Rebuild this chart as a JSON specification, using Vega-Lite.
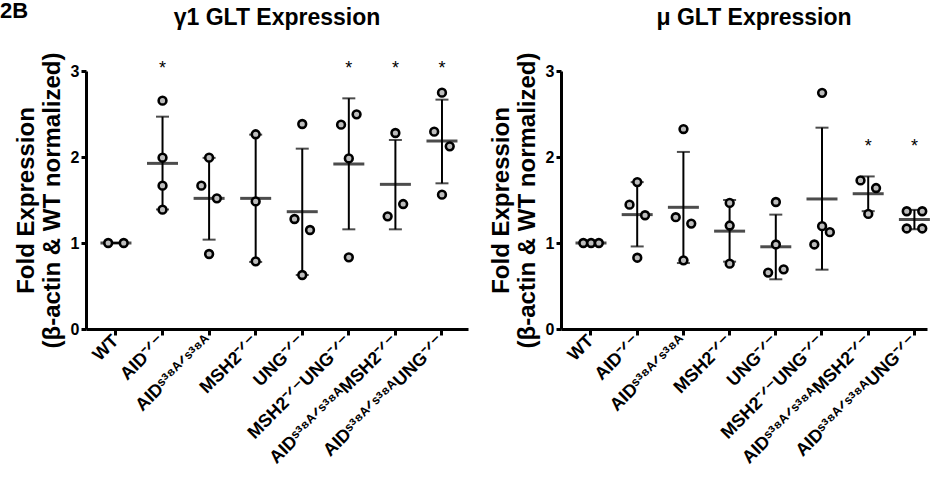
{
  "$schema": "https://vega.github.io/schema/vega-lite/v6.json",
  "padding": {"left": 0, "top": 0, "right": 0, "bottom": 0},
  "background": "white",
  "title": {"text": "2B", "anchor": "start", "frame": "bounds", "fontSize": 22, "font": "Liberation Sans", "fontWeight": "bold", "color": "black", "offset": -16, "dx": -14},
  "config": {
    "view": {"stroke": null},
    "font": "Liberation Sans",
    "title": {"font": "Liberation Sans", "fontSize": 23, "fontWeight": "bold", "color": "black", "anchor": "middle", "offset": 22}
  },
  "datasets": {
    "pts": [
      {"panel": "g1", "group": "WT", "pos": "l", "value": 1.0},
      {"panel": "g1", "group": "WT", "pos": "r", "value": 1.0},
      {"panel": "g1", "group": "AID⁻ᐟ⁻", "pos": "c", "value": 2.655},
      {"panel": "g1", "group": "AID⁻ᐟ⁻", "pos": "c", "value": 1.992},
      {"panel": "g1", "group": "AID⁻ᐟ⁻", "pos": "c", "value": 1.667},
      {"panel": "g1", "group": "AID⁻ᐟ⁻", "pos": "c", "value": 1.388},
      {"panel": "g1", "group": "AIDˢ³⁸ᴬᐟˢ³⁸ᴬ", "pos": "c", "value": 1.992},
      {"panel": "g1", "group": "AIDˢ³⁸ᴬᐟˢ³⁸ᴬ", "pos": "l", "value": 1.667},
      {"panel": "g1", "group": "AIDˢ³⁸ᴬᐟˢ³⁸ᴬ", "pos": "r", "value": 1.519},
      {"panel": "g1", "group": "AIDˢ³⁸ᴬᐟˢ³⁸ᴬ", "pos": "c", "value": 0.872},
      {"panel": "g1", "group": "MSH2⁻ᐟ⁻", "pos": "c", "value": 2.264},
      {"panel": "g1", "group": "MSH2⁻ᐟ⁻", "pos": "c", "value": 1.484},
      {"panel": "g1", "group": "MSH2⁻ᐟ⁻", "pos": "c", "value": 0.787},
      {"panel": "g1", "group": "UNG⁻ᐟ⁻", "pos": "c", "value": 2.384},
      {"panel": "g1", "group": "UNG⁻ᐟ⁻", "pos": "l", "value": 1.279},
      {"panel": "g1", "group": "UNG⁻ᐟ⁻", "pos": "r", "value": 1.151},
      {"panel": "g1", "group": "UNG⁻ᐟ⁻", "pos": "c", "value": 0.628},
      {"panel": "g1", "group": "MSH2⁻ᐟ⁻UNG⁻ᐟ⁻", "pos": "l", "value": 2.376},
      {"panel": "g1", "group": "MSH2⁻ᐟ⁻UNG⁻ᐟ⁻", "pos": "r", "value": 2.496},
      {"panel": "g1", "group": "MSH2⁻ᐟ⁻UNG⁻ᐟ⁻", "pos": "c", "value": 1.984},
      {"panel": "g1", "group": "MSH2⁻ᐟ⁻UNG⁻ᐟ⁻", "pos": "c", "value": 0.833},
      {"panel": "g1", "group": "AIDˢ³⁸ᴬᐟˢ³⁸ᴬMSH2⁻ᐟ⁻", "pos": "c", "value": 2.279},
      {"panel": "g1", "group": "AIDˢ³⁸ᴬᐟˢ³⁸ᴬMSH2⁻ᐟ⁻", "pos": "l", "value": 1.31},
      {"panel": "g1", "group": "AIDˢ³⁸ᴬᐟˢ³⁸ᴬMSH2⁻ᐟ⁻", "pos": "r", "value": 1.453},
      {"panel": "g1", "group": "AIDˢ³⁸ᴬᐟˢ³⁸ᴬUNG⁻ᐟ⁻", "pos": "c", "value": 2.748},
      {"panel": "g1", "group": "AIDˢ³⁸ᴬᐟˢ³⁸ᴬUNG⁻ᐟ⁻", "pos": "l", "value": 2.295},
      {"panel": "g1", "group": "AIDˢ³⁸ᴬᐟˢ³⁸ᴬUNG⁻ᐟ⁻", "pos": "r", "value": 2.124},
      {"panel": "g1", "group": "AIDˢ³⁸ᴬᐟˢ³⁸ᴬUNG⁻ᐟ⁻", "pos": "c", "value": 1.562},
      {"panel": "mu", "group": "WT", "pos": "l", "value": 1.0},
      {"panel": "mu", "group": "WT", "pos": "c", "value": 1.0},
      {"panel": "mu", "group": "WT", "pos": "r", "value": 1.0},
      {"panel": "mu", "group": "AID⁻ᐟ⁻", "pos": "c", "value": 1.708},
      {"panel": "mu", "group": "AID⁻ᐟ⁻", "pos": "l", "value": 1.446},
      {"panel": "mu", "group": "AID⁻ᐟ⁻", "pos": "r", "value": 1.323},
      {"panel": "mu", "group": "AID⁻ᐟ⁻", "pos": "c", "value": 0.829},
      {"panel": "mu", "group": "AIDˢ³⁸ᴬᐟˢ³⁸ᴬ", "pos": "c", "value": 2.325},
      {"panel": "mu", "group": "AIDˢ³⁸ᴬᐟˢ³⁸ᴬ", "pos": "l", "value": 1.3},
      {"panel": "mu", "group": "AIDˢ³⁸ᴬᐟˢ³⁸ᴬ", "pos": "r", "value": 1.226},
      {"panel": "mu", "group": "AIDˢ³⁸ᴬᐟˢ³⁸ᴬ", "pos": "c", "value": 0.798},
      {"panel": "mu", "group": "MSH2⁻ᐟ⁻", "pos": "c", "value": 1.466},
      {"panel": "mu", "group": "MSH2⁻ᐟ⁻", "pos": "c", "value": 1.203},
      {"panel": "mu", "group": "MSH2⁻ᐟ⁻", "pos": "c", "value": 0.76},
      {"panel": "mu", "group": "UNG⁻ᐟ⁻", "pos": "c", "value": 1.477},
      {"panel": "mu", "group": "UNG⁻ᐟ⁻", "pos": "c", "value": 0.983},
      {"panel": "mu", "group": "UNG⁻ᐟ⁻", "pos": "l", "value": 0.656},
      {"panel": "mu", "group": "UNG⁻ᐟ⁻", "pos": "r", "value": 0.694},
      {"panel": "mu", "group": "MSH2⁻ᐟ⁻UNG⁻ᐟ⁻", "pos": "c", "value": 2.746},
      {"panel": "mu", "group": "MSH2⁻ᐟ⁻UNG⁻ᐟ⁻", "pos": "c", "value": 1.196},
      {"panel": "mu", "group": "MSH2⁻ᐟ⁻UNG⁻ᐟ⁻", "pos": "l", "value": 0.983},
      {"panel": "mu", "group": "MSH2⁻ᐟ⁻UNG⁻ᐟ⁻", "pos": "r", "value": 1.126},
      {"panel": "mu", "group": "AIDˢ³⁸ᴬᐟˢ³⁸ᴬMSH2⁻ᐟ⁻", "pos": "l", "value": 1.728},
      {"panel": "mu", "group": "AIDˢ³⁸ᴬᐟˢ³⁸ᴬMSH2⁻ᐟ⁻", "pos": "r", "value": 1.639},
      {"panel": "mu", "group": "AIDˢ³⁸ᴬᐟˢ³⁸ᴬMSH2⁻ᐟ⁻", "pos": "c", "value": 1.338},
      {"panel": "mu", "group": "AIDˢ³⁸ᴬᐟˢ³⁸ᴬUNG⁻ᐟ⁻", "pos": "l", "value": 1.369},
      {"panel": "mu", "group": "AIDˢ³⁸ᴬᐟˢ³⁸ᴬUNG⁻ᐟ⁻", "pos": "r", "value": 1.369},
      {"panel": "mu", "group": "AIDˢ³⁸ᴬᐟˢ³⁸ᴬUNG⁻ᐟ⁻", "pos": "l", "value": 1.169},
      {"panel": "mu", "group": "AIDˢ³⁸ᴬᐟˢ³⁸ᴬUNG⁻ᐟ⁻", "pos": "r", "value": 1.169}
    ],
    "sum": [
      {"panel": "g1", "group": "WT", "mean": 1.0, "lo": 1.0, "hi": 1.0},
      {"panel": "g1", "group": "AID⁻ᐟ⁻", "mean": 1.926, "lo": 1.39, "hi": 2.469},
      {"panel": "g1", "group": "AIDˢ³⁸ᴬᐟˢ³⁸ᴬ", "mean": 1.519, "lo": 1.039, "hi": 1.99},
      {"panel": "g1", "group": "MSH2⁻ᐟ⁻", "mean": 1.519, "lo": 0.78, "hi": 2.26},
      {"panel": "g1", "group": "UNG⁻ᐟ⁻", "mean": 1.364, "lo": 0.628, "hi": 2.097},
      {"panel": "g1", "group": "MSH2⁻ᐟ⁻UNG⁻ᐟ⁻", "mean": 1.919, "lo": 1.159, "hi": 2.682},
      {"panel": "g1", "group": "AIDˢ³⁸ᴬᐟˢ³⁸ᴬMSH2⁻ᐟ⁻", "mean": 1.682, "lo": 1.159, "hi": 2.198},
      {"panel": "g1", "group": "AIDˢ³⁸ᴬᐟˢ³⁸ᴬUNG⁻ᐟ⁻", "mean": 2.186, "lo": 1.694, "hi": 2.667},
      {"panel": "mu", "group": "WT", "mean": 1.0, "lo": 1.0, "hi": 1.0},
      {"panel": "mu", "group": "AID⁻ᐟ⁻", "mean": 1.33, "lo": 0.96, "hi": 1.708},
      {"panel": "mu", "group": "AIDˢ³⁸ᴬᐟˢ³⁸ᴬ", "mean": 1.415, "lo": 0.767, "hi": 2.059},
      {"panel": "mu", "group": "MSH2⁻ᐟ⁻", "mean": 1.138, "lo": 0.783, "hi": 1.5},
      {"panel": "mu", "group": "UNG⁻ᐟ⁻", "mean": 0.956, "lo": 0.578, "hi": 1.33},
      {"panel": "mu", "group": "MSH2⁻ᐟ⁻UNG⁻ᐟ⁻", "mean": 1.512, "lo": 0.69, "hi": 2.341},
      {"panel": "mu", "group": "AIDˢ³⁸ᴬᐟˢ³⁸ᴬMSH2⁻ᐟ⁻", "mean": 1.573, "lo": 1.37, "hi": 1.774},
      {"panel": "mu", "group": "AIDˢ³⁸ᴬᐟˢ³⁸ᴬUNG⁻ᐟ⁻", "mean": 1.273, "lo": 1.16, "hi": 1.385}
    ],
    "stars": [
      {"panel": "g1", "group": "AID⁻ᐟ⁻", "label": "*", "y": 2.97},
      {"panel": "g1", "group": "MSH2⁻ᐟ⁻UNG⁻ᐟ⁻", "label": "*", "y": 2.97},
      {"panel": "g1", "group": "AIDˢ³⁸ᴬᐟˢ³⁸ᴬMSH2⁻ᐟ⁻", "label": "*", "y": 2.97},
      {"panel": "g1", "group": "AIDˢ³⁸ᴬᐟˢ³⁸ᴬUNG⁻ᐟ⁻", "label": "*", "y": 2.97},
      {"panel": "mu", "group": "AIDˢ³⁸ᴬᐟˢ³⁸ᴬMSH2⁻ᐟ⁻", "label": "*", "y": 2.06},
      {"panel": "mu", "group": "AIDˢ³⁸ᴬᐟˢ³⁸ᴬUNG⁻ᐟ⁻", "label": "*", "y": 2.06}
    ]
  },
  "spacing": 21,
  "resolve": {"scale": {"x": "independent", "y": "independent"}},
  "hconcat": [
    {
      "width": 382,
      "height": 258,
      "title": {"text": "γ1 GLT Expression"},
      "encoding": {
        "x": {"field": "group", "type": "nominal", "sort": ["WT", "AID⁻ᐟ⁻", "AIDˢ³⁸ᴬᐟˢ³⁸ᴬ", "MSH2⁻ᐟ⁻", "UNG⁻ᐟ⁻", "MSH2⁻ᐟ⁻UNG⁻ᐟ⁻", "AIDˢ³⁸ᴬᐟˢ³⁸ᴬMSH2⁻ᐟ⁻", "AIDˢ³⁸ᴬᐟˢ³⁸ᴬUNG⁻ᐟ⁻"], "scale": {"paddingInner": 0.5, "paddingOuter": 0.351, "align": 0.56},
          "axis": {"title": null, "labelFont": "Liberation Sans", "labelFontWeight": "bold", "labelColor": "black", "labelFontSize": 18, "labelAngle": -45, "labelAlign": "right", "labelBaseline": "middle", "labelPadding": 3, "labelOverlap": false, "labelLimit": 300, "domainColor": "black", "domainWidth": 3, "tickColor": "black", "tickWidth": 3, "tickSize": 6}}
      },
      "layer": [
        {"data": {"name": "sum"}, "transform": [{"filter": {"field": "panel", "equal": "g1"}}], "mark": {"type": "rule", "color": "black", "strokeWidth": 2},
         "encoding": {"y": {"field": "lo", "type": "quantitative", "scale": {"domain": [0, 3], "nice": false},
           "axis": {"title": ["Fold  Expression", "(β-actin & WT normalized)"], "values": [0, 1, 2, 3], "format": "d", "grid": false, "labelFont": "Liberation Sans", "labelFontWeight": "bold", "labelColor": "black", "labelFontSize": 16, "labelPadding": 2, "tickSize": 5, "tickWidth": 3, "tickColor": "black", "domainColor": "black", "domainWidth": 3, "titleFont": "Liberation Sans", "titleFontWeight": "bold", "titleColor": "black", "titleFontSize": 24, "titlePadding": 6, "titleLineHeight": 26, "titleLimit": 400}}, "y2": {"field": "hi"}}},
        {"data": {"name": "sum"}, "transform": [{"filter": {"field": "panel", "equal": "g1"}}], "mark": {"type": "tick", "color": "black", "size": 13, "thickness": 2, "orient": "horizontal"},
         "encoding": {"y": {"field": "lo", "type": "quantitative"}}},
        {"data": {"name": "sum"}, "transform": [{"filter": {"field": "panel", "equal": "g1"}}], "mark": {"type": "tick", "color": "black", "size": 13, "thickness": 2, "orient": "horizontal"},
         "encoding": {"y": {"field": "hi", "type": "quantitative"}}},
        {"data": {"name": "sum"}, "transform": [{"filter": {"field": "panel", "equal": "g1"}}], "mark": {"type": "tick", "color": "black", "size": 31, "thickness": 3, "orient": "horizontal"},
         "encoding": {"y": {"field": "mean", "type": "quantitative"}}},
        {"data": {"name": "pts"}, "transform": [{"filter": {"field": "panel", "equal": "g1"}}], "mark": {"type": "circle", "fill": "#bdbdbd", "fillOpacity": 1, "stroke": "black", "strokeWidth": 2.6, "opacity": 1, "size": 60},
         "encoding": {"y": {"field": "value", "type": "quantitative"}, "xOffset": {"field": "pos", "type": "nominal", "sort": ["l", "c", "r"], "scale": {"domain": ["l", "c", "r"]}}}},
        {"data": {"name": "stars"}, "transform": [{"filter": {"field": "panel", "equal": "g1"}}], "mark": {"type": "text", "fontSize": 18, "color": "black", "baseline": "alphabetic", "align": "center"},
         "encoding": {"y": {"field": "y", "type": "quantitative"}, "text": {"field": "label"}}}
      ]
    },
    {
      "width": 366,
      "height": 258,
      "title": {"text": "μ GLT Expression", "dx": 10},
      "encoding": {
        "x": {"field": "group", "type": "nominal", "sort": ["WT", "AID⁻ᐟ⁻", "AIDˢ³⁸ᴬᐟˢ³⁸ᴬ", "MSH2⁻ᐟ⁻", "UNG⁻ᐟ⁻", "MSH2⁻ᐟ⁻UNG⁻ᐟ⁻", "AIDˢ³⁸ᴬᐟˢ³⁸ᴬMSH2⁻ᐟ⁻", "AIDˢ³⁸ᴬᐟˢ³⁸ᴬUNG⁻ᐟ⁻"], "scale": {"paddingInner": 0.5, "paddingOuter": 0.211, "align": 0.946},
          "axis": {"title": null, "labelFont": "Liberation Sans", "labelFontWeight": "bold", "labelColor": "black", "labelFontSize": 18, "labelAngle": -45, "labelAlign": "right", "labelBaseline": "middle", "labelPadding": 3, "labelOverlap": false, "labelLimit": 300, "domainColor": "black", "domainWidth": 3, "tickColor": "black", "tickWidth": 3, "tickSize": 6}}
      },
      "layer": [
        {"data": {"name": "sum"}, "transform": [{"filter": {"field": "panel", "equal": "mu"}}], "mark": {"type": "rule", "color": "black", "strokeWidth": 2},
         "encoding": {"y": {"field": "lo", "type": "quantitative", "scale": {"domain": [0, 3], "nice": false},
           "axis": {"title": ["Fold  Expression", "(β-actin & WT normalized)"], "values": [0, 1, 2, 3], "format": "d", "grid": false, "labelFont": "Liberation Sans", "labelFontWeight": "bold", "labelColor": "black", "labelFontSize": 16, "labelPadding": 2, "tickSize": 5, "tickWidth": 3, "tickColor": "black", "domainColor": "black", "domainWidth": 3, "titleFont": "Liberation Sans", "titleFontWeight": "bold", "titleColor": "black", "titleFontSize": 24, "titlePadding": 6, "titleLineHeight": 26, "titleLimit": 400}}, "y2": {"field": "hi"}}},
        {"data": {"name": "sum"}, "transform": [{"filter": {"field": "panel", "equal": "mu"}}], "mark": {"type": "tick", "color": "black", "size": 13, "thickness": 2, "orient": "horizontal"},
         "encoding": {"y": {"field": "lo", "type": "quantitative"}}},
        {"data": {"name": "sum"}, "transform": [{"filter": {"field": "panel", "equal": "mu"}}], "mark": {"type": "tick", "color": "black", "size": 13, "thickness": 2, "orient": "horizontal"},
         "encoding": {"y": {"field": "hi", "type": "quantitative"}}},
        {"data": {"name": "sum"}, "transform": [{"filter": {"field": "panel", "equal": "mu"}}], "mark": {"type": "tick", "color": "black", "size": 31, "thickness": 3, "orient": "horizontal"},
         "encoding": {"y": {"field": "mean", "type": "quantitative"}}},
        {"data": {"name": "pts"}, "transform": [{"filter": {"field": "panel", "equal": "mu"}}], "mark": {"type": "circle", "fill": "#bdbdbd", "fillOpacity": 1, "stroke": "black", "strokeWidth": 2.6, "opacity": 1, "size": 60},
         "encoding": {"y": {"field": "value", "type": "quantitative"}, "xOffset": {"field": "pos", "type": "nominal", "sort": ["l", "c", "r"], "scale": {"domain": ["l", "c", "r"]}}}},
        {"data": {"name": "stars"}, "transform": [{"filter": {"field": "panel", "equal": "mu"}}], "mark": {"type": "text", "fontSize": 18, "color": "black", "baseline": "alphabetic", "align": "center"},
         "encoding": {"y": {"field": "y", "type": "quantitative"}, "text": {"field": "label"}}}
      ]
    }
  ]
}
